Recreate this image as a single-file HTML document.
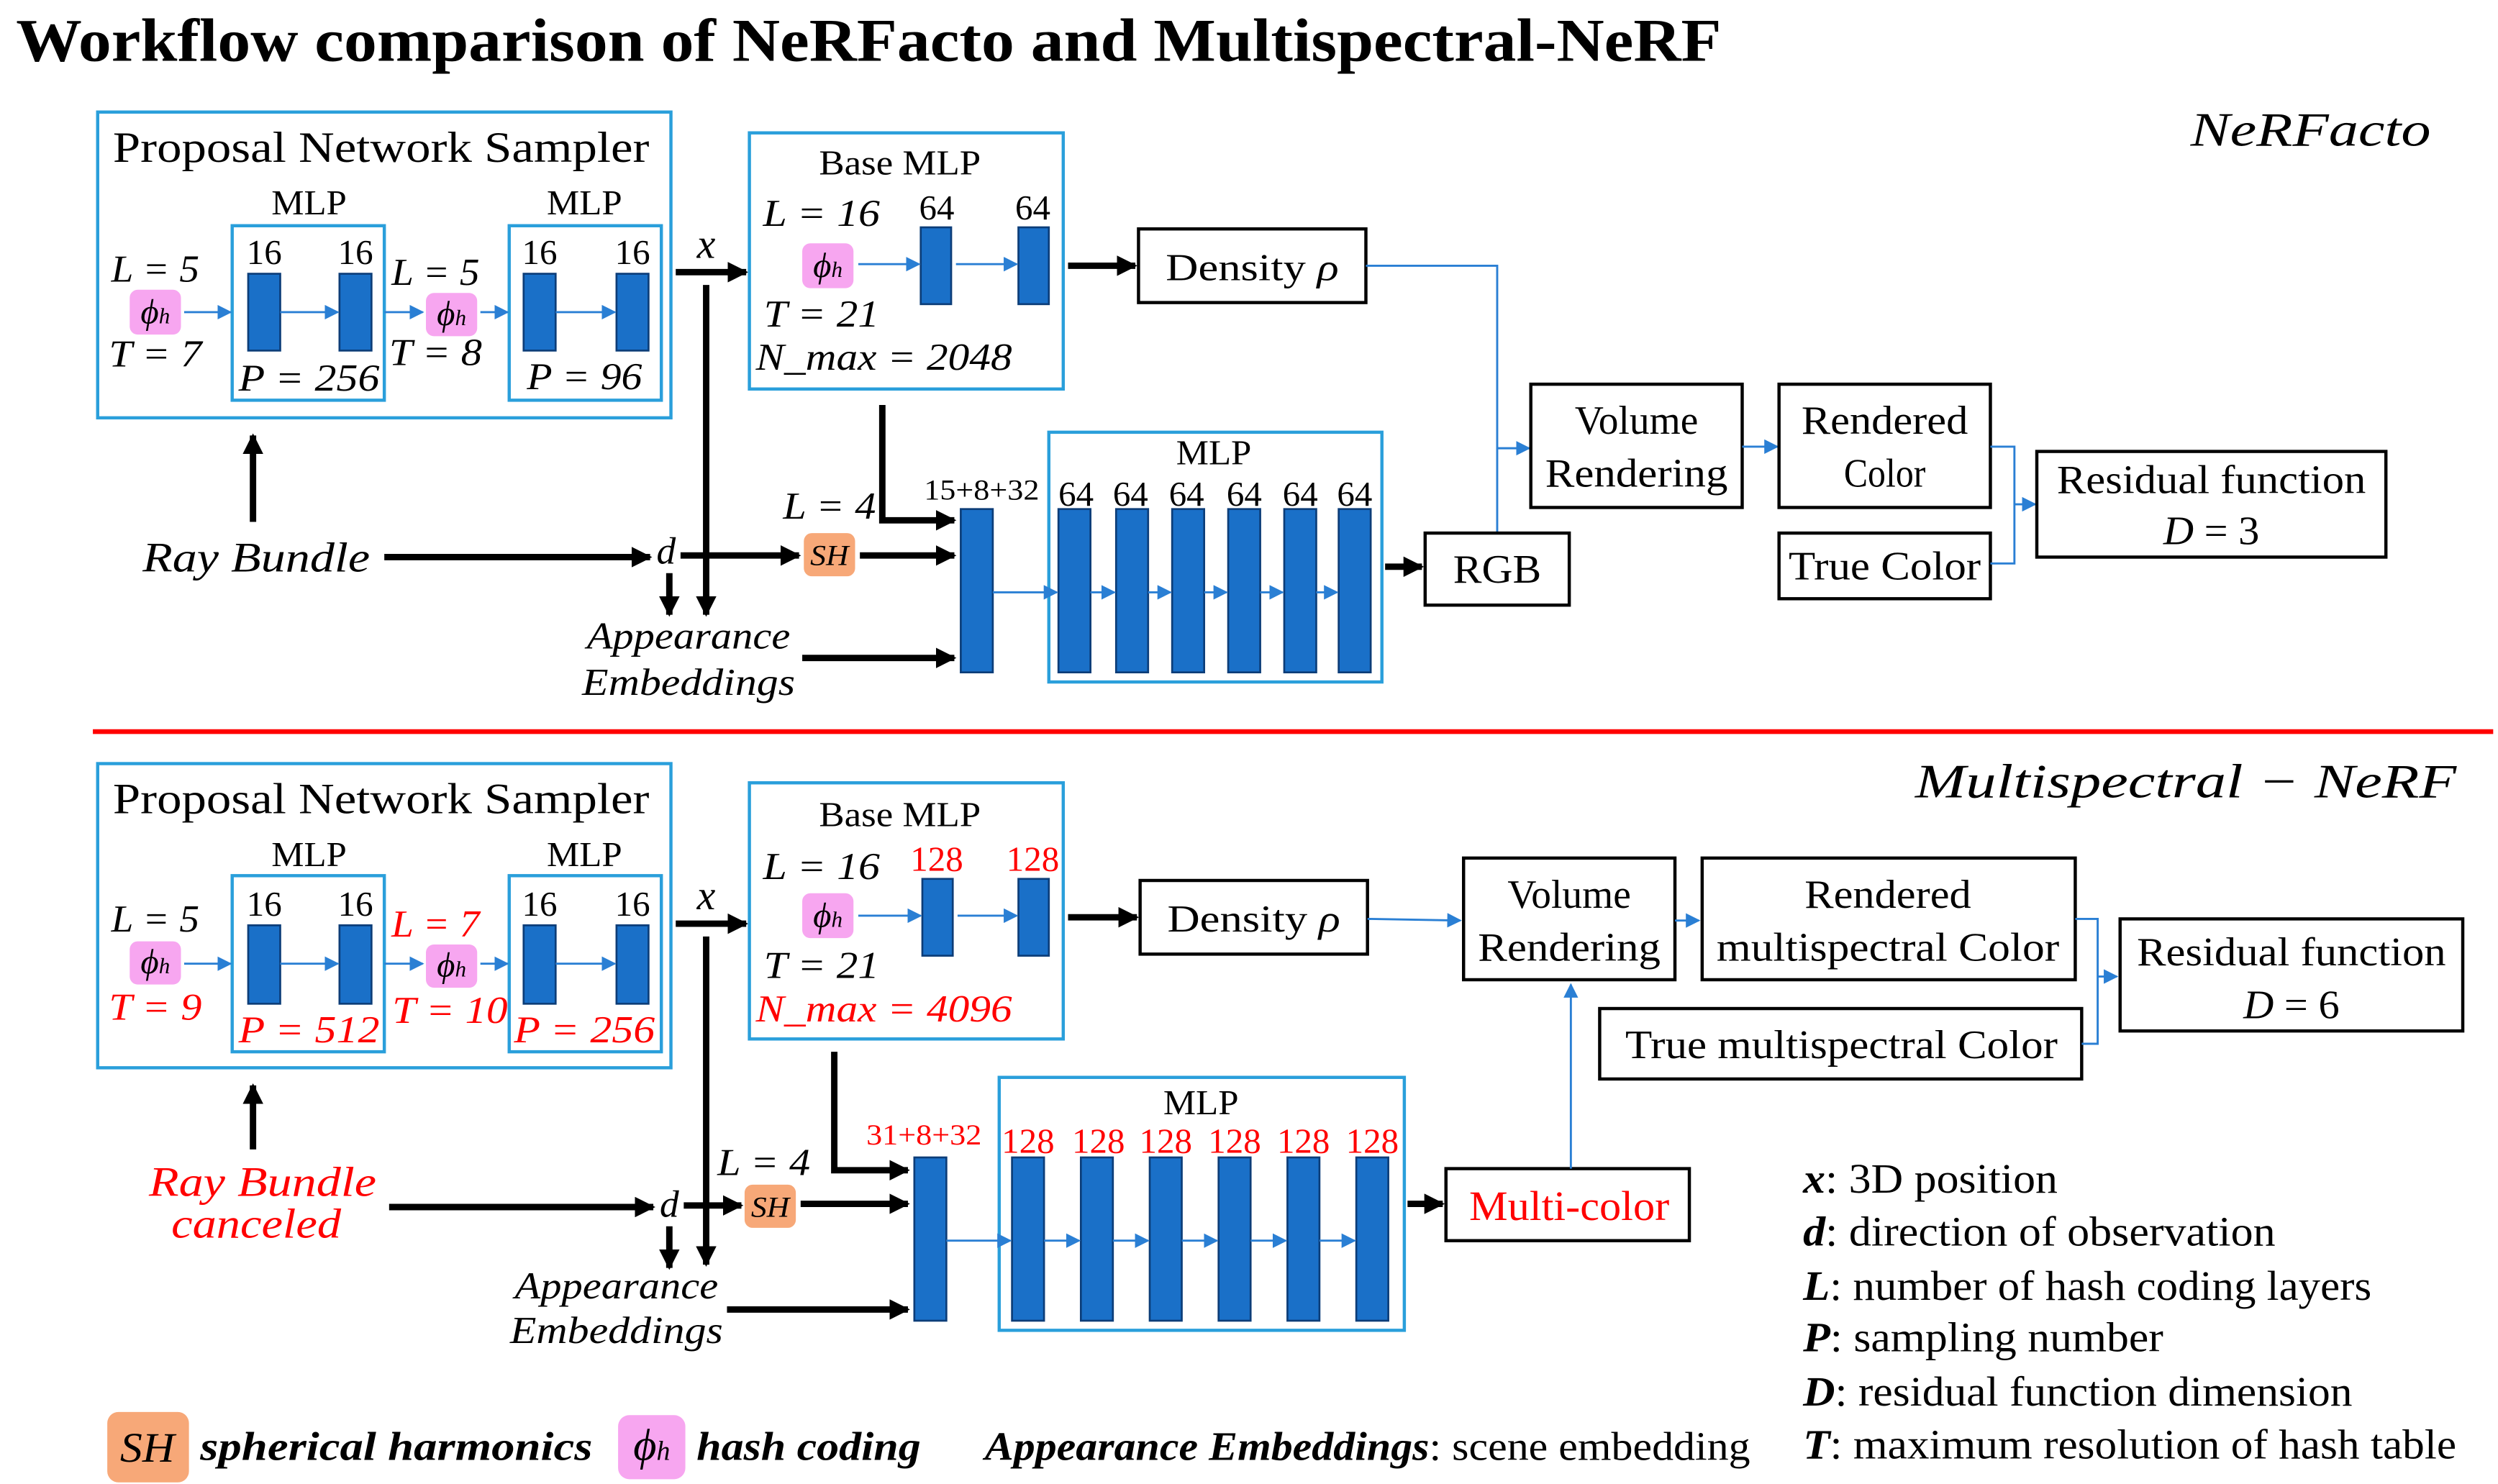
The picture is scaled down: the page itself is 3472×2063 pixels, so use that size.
<!DOCTYPE html>
<html><head><meta charset="utf-8"><style>
html,body{margin:0;padding:0;background:#fff}
svg{display:block}
text{font-family:"Liberation Serif","Times New Roman",serif;fill:#000}
.i{font-style:italic}
.b{font-weight:bold}
.r{fill:#f00}
.m{text-anchor:middle}
.bb{fill:none;stroke:#2a9fdb;stroke-width:2}
.kb{fill:#fff;stroke:#000;stroke-width:2}
.bar{fill:#1a70c8;stroke:#0c3d78;stroke-width:1.2}
.ph{fill:#f7a6f0}
.sh{fill:#f7a878}
.tk{stroke:#000;stroke-width:4;fill:none}
.bl{stroke:#2a7fd4;stroke-width:1.3;fill:none}
</style></head><body>
<svg width="3472" height="2063" viewBox="0 0 1560 927" preserveAspectRatio="none" xmlns="http://www.w3.org/2000/svg">
<defs>
<marker id="ka" viewBox="0 0 10 10" refX="9" refY="5" markerWidth="3.2" markerHeight="3.2" orient="auto" markerUnits="strokeWidth"><path d="M0,0L10,5L0,10z" fill="#000"/></marker>
<marker id="ba" viewBox="0 0 10 10" refX="9" refY="5" markerWidth="7" markerHeight="7" orient="auto" markerUnits="strokeWidth"><path d="M0,0L10,5L0,10z" fill="#2a7fd4"/></marker>
</defs>

<text x="10" y="38" class="b" font-size="38" textLength="1065" lengthAdjust="spacingAndGlyphs">Workflow comparison of NeRFacto and Multispectral-NeRF</text>

<!-- ============ TOP ============ -->
<text x="1443" y="91" class="i m" font-size="30" textLength="150" lengthAdjust="spacingAndGlyphs">NeRFacto</text>

<rect x="61" y="70" width="358" height="191" class="bb"/>
<text x="238" y="101" class="m" font-size="27" textLength="335" lengthAdjust="spacingAndGlyphs">Proposal Network Sampler</text>
<text x="193" y="134" class="m" font-size="22" textLength="47" lengthAdjust="spacingAndGlyphs">MLP</text>
<text x="365" y="134" class="m" font-size="22" textLength="47" lengthAdjust="spacingAndGlyphs">MLP</text>
<rect x="145" y="141" width="95" height="109" class="bb"/>
<rect x="318" y="141" width="95" height="109" class="bb"/>
<text x="165" y="165" class="m" font-size="22">16</text><text x="222" y="165" class="m" font-size="22">16</text>
<text x="337" y="165" class="m" font-size="22">16</text><text x="395" y="165" class="m" font-size="22">16</text>
<rect x="155" y="171" width="20" height="48" class="bar"/><rect x="212" y="171" width="20" height="48" class="bar"/>
<rect x="327" y="171" width="20" height="48" class="bar"/><rect x="385" y="171" width="20" height="48" class="bar"/>
<text x="193" y="244" class="m i" font-size="24" textLength="88" lengthAdjust="spacingAndGlyphs">P = 256</text>
<text x="365" y="243" class="m i" font-size="24" textLength="72" lengthAdjust="spacingAndGlyphs">P = 96</text>
<text x="97" y="176" class="m i" font-size="24" textLength="55" lengthAdjust="spacingAndGlyphs">L = 5</text>
<rect x="81" y="181" width="32" height="28" rx="5" class="ph"/><text x="97" y="202" class="m i" font-size="22">ϕ<tspan font-size="14">h</tspan></text>
<text x="97" y="229" class="m i" font-size="24" textLength="58" lengthAdjust="spacingAndGlyphs">T = 7</text>
<text x="272" y="178" class="m i" font-size="24" textLength="55" lengthAdjust="spacingAndGlyphs">L = 5</text>
<rect x="266" y="183" width="32" height="27" rx="5" class="ph"/><text x="282" y="203" class="m i" font-size="22">ϕ<tspan font-size="14">h</tspan></text>
<text x="272" y="228" class="m i" font-size="24" textLength="58" lengthAdjust="spacingAndGlyphs">T = 8</text>
<path d="M115,195H144" class="bl" marker-end="url(#ba)"/>
<path d="M175,195H211" class="bl" marker-end="url(#ba)"/>
<path d="M240,195H264" class="bl" marker-end="url(#ba)"/>
<path d="M300,195H317" class="bl" marker-end="url(#ba)"/>
<path d="M347,195H384" class="bl" marker-end="url(#ba)"/>

<text x="441" y="161" class="m i" font-size="26">x</text>
<path d="M422,170H466" class="tk" marker-end="url(#ka)"/>
<path d="M441,178V384" class="tk" stroke-width="3" marker-end="url(#ka)"/>

<rect x="468" y="83" width="196" height="160" class="bb"/>
<text x="562" y="109" class="m" font-size="22" textLength="101" lengthAdjust="spacingAndGlyphs">Base MLP</text>
<text x="513" y="141" class="m i" font-size="24" textLength="73" lengthAdjust="spacingAndGlyphs">L = 16</text>
<text x="585" y="137" class="m" font-size="22">64</text><text x="645" y="137" class="m" font-size="22">64</text>
<rect x="501" y="152" width="32" height="28" rx="5" class="ph"/><text x="517" y="173" class="m i" font-size="22">ϕ<tspan font-size="14">h</tspan></text>
<rect x="575" y="142" width="19" height="48" class="bar"/><rect x="636" y="142" width="19" height="48" class="bar"/>
<path d="M536,165H574" class="bl" marker-end="url(#ba)"/><path d="M597,165H635" class="bl" marker-end="url(#ba)"/>
<text x="513" y="204" class="m i" font-size="24" textLength="72" lengthAdjust="spacingAndGlyphs">T = 21</text>
<text x="552" y="231" class="m i" font-size="24" textLength="160" lengthAdjust="spacingAndGlyphs">N_max = 2048</text>
<path d="M667,166H709" class="tk" marker-end="url(#ka)"/>
<rect x="711" y="143" width="142" height="46" class="kb"/>
<text x="782" y="175" class="m" font-size="24" textLength="108" lengthAdjust="spacingAndGlyphs">Density <tspan class="i">ρ</tspan></text>
<path d="M853,166H935V280H955" class="bl" marker-end="url(#ba)"/>
<path d="M935,333V280" class="bl"/>

<rect x="956" y="240" width="132" height="77" class="kb"/>
<text x="1022" y="271" class="m" font-size="25" textLength="77" lengthAdjust="spacingAndGlyphs">Volume</text><text x="1022" y="304" class="m" font-size="25" textLength="114" lengthAdjust="spacingAndGlyphs">Rendering</text>
<path d="M1088,279H1110" class="bl" marker-end="url(#ba)"/>
<rect x="1111" y="240" width="132" height="77" class="kb"/>
<text x="1177" y="271" class="m" font-size="25" textLength="104" lengthAdjust="spacingAndGlyphs">Rendered</text><text x="1177" y="304" class="m" font-size="25" textLength="51" lengthAdjust="spacingAndGlyphs">Color</text>
<rect x="1111" y="333" width="132" height="41" class="kb"/>
<text x="1177" y="362" class="m" font-size="25" textLength="120" lengthAdjust="spacingAndGlyphs">True Color</text>
<path d="M1243,279H1258V352H1243" class="bl"/>
<path d="M1258,315H1271" class="bl" marker-end="url(#ba)"/>
<rect x="1272" y="282" width="218" height="66" class="kb"/>
<text x="1381" y="308" class="m" font-size="25" textLength="193" lengthAdjust="spacingAndGlyphs">Residual function</text>
<text x="1381" y="340" class="m" font-size="25" textLength="60" lengthAdjust="spacingAndGlyphs"><tspan class="i">D</tspan> = 3</text>

<path d="M551,253V325H596" class="tk" marker-end="url(#ka)"/>
<text x="518" y="324" class="m i" font-size="24" textLength="58" lengthAdjust="spacingAndGlyphs">L = 4</text>
<rect x="502" y="333" width="32" height="27" rx="5" class="sh"/><text x="518" y="353" class="m i" font-size="18" textLength="24" lengthAdjust="spacingAndGlyphs">SH</text>
<path d="M537,347H596" class="tk" marker-end="url(#ka)"/>
<text x="416" y="352" class="m i" font-size="24">d</text>
<text x="160" y="357" class="m i" font-size="26" textLength="142" lengthAdjust="spacingAndGlyphs">Ray Bundle</text>
<path d="M240,348H406" class="tk" marker-end="url(#ka)"/>
<path d="M425,347H499" class="tk" marker-end="url(#ka)"/>
<path d="M158,326V272" class="tk" stroke-width="3" marker-end="url(#ka)"/>
<path d="M418,358V384" class="tk" stroke-width="3" marker-end="url(#ka)"/>
<text x="430" y="405" class="m i" font-size="24" textLength="127" lengthAdjust="spacingAndGlyphs">Appearance</text>
<text x="430" y="434" class="m i" font-size="24" textLength="133" lengthAdjust="spacingAndGlyphs">Embeddings</text>
<path d="M501,411H596" class="tk" marker-end="url(#ka)"/>
<text x="613" y="312" class="m" font-size="18" textLength="72" lengthAdjust="spacingAndGlyphs">15+8+32</text>
<rect x="600" y="318" width="20" height="102" class="bar"/>
<rect x="655" y="270" width="208" height="156" class="bb"/>
<text x="758" y="290" class="m" font-size="22" textLength="47" lengthAdjust="spacingAndGlyphs">MLP</text>
<g font-size="22">
<text x="672" y="316" class="m">64</text><text x="706" y="316" class="m">64</text><text x="741" y="316" class="m">64</text><text x="777" y="316" class="m">64</text><text x="812" y="316" class="m">64</text><text x="846" y="316" class="m">64</text>
</g>
<rect x="661" y="318" width="20" height="102" class="bar"/><rect x="697" y="318" width="20" height="102" class="bar"/><rect x="732" y="318" width="20" height="102" class="bar"/><rect x="767" y="318" width="20" height="102" class="bar"/><rect x="802" y="318" width="20" height="102" class="bar"/><rect x="836" y="318" width="20" height="102" class="bar"/>
<path d="M620,370H660" class="bl" marker-end="url(#ba)"/><path d="M681,370H696" class="bl" marker-end="url(#ba)"/><path d="M717,370H731" class="bl" marker-end="url(#ba)"/><path d="M752,370H766" class="bl" marker-end="url(#ba)"/><path d="M787,370H801" class="bl" marker-end="url(#ba)"/><path d="M822,370H835" class="bl" marker-end="url(#ba)"/>
<path d="M865,354H888" class="tk" marker-end="url(#ka)"/>
<rect x="890" y="333" width="90" height="45" class="kb"/>
<text x="935" y="364" class="m" font-size="25" textLength="55" lengthAdjust="spacingAndGlyphs">RGB</text>

<line x1="58" y1="457" x2="1557" y2="457" stroke="#f00" stroke-width="3"/>

<!-- ============ BOTTOM ============ -->
<text x="1365" y="498" class="i m" font-size="30" textLength="338" lengthAdjust="spacingAndGlyphs">Multispectral − NeRF</text>

<rect x="61" y="477" width="358" height="190" class="bb"/>
<text x="238" y="508" class="m" font-size="27" textLength="335" lengthAdjust="spacingAndGlyphs">Proposal Network Sampler</text>
<text x="193" y="541" class="m" font-size="22" textLength="47" lengthAdjust="spacingAndGlyphs">MLP</text>
<text x="365" y="541" class="m" font-size="22" textLength="47" lengthAdjust="spacingAndGlyphs">MLP</text>
<rect x="145" y="547" width="95" height="110" class="bb"/>
<rect x="318" y="547" width="95" height="110" class="bb"/>
<text x="165" y="572" class="m" font-size="22">16</text><text x="222" y="572" class="m" font-size="22">16</text>
<text x="337" y="572" class="m" font-size="22">16</text><text x="395" y="572" class="m" font-size="22">16</text>
<rect x="155" y="578" width="20" height="49" class="bar"/><rect x="212" y="578" width="20" height="49" class="bar"/>
<rect x="327" y="578" width="20" height="49" class="bar"/><rect x="385" y="578" width="20" height="49" class="bar"/>
<text x="193" y="651" class="m i r" font-size="24" textLength="88" lengthAdjust="spacingAndGlyphs">P = 512</text>
<text x="365" y="651" class="m i r" font-size="24" textLength="88" lengthAdjust="spacingAndGlyphs">P = 256</text>
<text x="97" y="582" class="m i" font-size="24" textLength="55" lengthAdjust="spacingAndGlyphs">L = 5</text>
<rect x="81" y="588" width="32" height="27" rx="5" class="ph"/><text x="97" y="608" class="m i" font-size="22">ϕ<tspan font-size="14">h</tspan></text>
<text x="97" y="637" class="m i r" font-size="24" textLength="58" lengthAdjust="spacingAndGlyphs">T = 9</text>
<text x="272" y="585" class="m i r" font-size="24" textLength="55" lengthAdjust="spacingAndGlyphs">L = 7</text>
<rect x="266" y="590" width="32" height="27" rx="5" class="ph"/><text x="282" y="610" class="m i" font-size="22">ϕ<tspan font-size="14">h</tspan></text>
<text x="281" y="639" class="m i r" font-size="24" textLength="72" lengthAdjust="spacingAndGlyphs">T = 10</text>
<path d="M115,602H144" class="bl" marker-end="url(#ba)"/>
<path d="M175,602H211" class="bl" marker-end="url(#ba)"/>
<path d="M240,602H264" class="bl" marker-end="url(#ba)"/>
<path d="M300,602H317" class="bl" marker-end="url(#ba)"/>
<path d="M347,602H384" class="bl" marker-end="url(#ba)"/>

<text x="441" y="568" class="m i" font-size="26">x</text>
<path d="M422,577H466" class="tk" marker-end="url(#ka)"/>
<path d="M441,585V790" class="tk" stroke-width="3" marker-end="url(#ka)"/>

<rect x="468" y="489" width="196" height="160" class="bb"/>
<text x="562" y="516" class="m" font-size="22" textLength="101" lengthAdjust="spacingAndGlyphs">Base MLP</text>
<text x="513" y="549" class="m i" font-size="24" textLength="73" lengthAdjust="spacingAndGlyphs">L = 16</text>
<text x="585" y="544" class="m r" font-size="22">128</text><text x="645" y="544" class="m r" font-size="22">128</text>
<rect x="501" y="558" width="32" height="28" rx="5" class="ph"/><text x="517" y="579" class="m i" font-size="22">ϕ<tspan font-size="14">h</tspan></text>
<rect x="576" y="549" width="19" height="48" class="bar"/><rect x="636" y="549" width="19" height="48" class="bar"/>
<path d="M536,572H575" class="bl" marker-end="url(#ba)"/><path d="M598,572H635" class="bl" marker-end="url(#ba)"/>
<text x="513" y="611" class="m i" font-size="24" textLength="72" lengthAdjust="spacingAndGlyphs">T = 21</text>
<text x="552" y="638" class="m i r" font-size="24" textLength="160" lengthAdjust="spacingAndGlyphs">N_max = 4096</text>
<path d="M667,573H710" class="tk" marker-end="url(#ka)"/>
<rect x="712" y="550" width="142" height="46" class="kb"/>
<text x="783" y="582" class="m" font-size="24" textLength="108" lengthAdjust="spacingAndGlyphs">Density <tspan class="i">ρ</tspan></text>
<path d="M854,574L912,575" class="bl" marker-end="url(#ba)"/>

<rect x="914" y="536" width="132" height="76" class="kb"/>
<text x="980" y="567" class="m" font-size="25" textLength="77" lengthAdjust="spacingAndGlyphs">Volume</text><text x="980" y="600" class="m" font-size="25" textLength="114" lengthAdjust="spacingAndGlyphs">Rendering</text>
<path d="M1046,575H1061" class="bl" marker-end="url(#ba)"/>
<rect x="1063" y="536" width="233" height="76" class="kb"/>
<text x="1179" y="567" class="m" font-size="25" textLength="104" lengthAdjust="spacingAndGlyphs">Rendered</text><text x="1179" y="600" class="m" font-size="25" textLength="214" lengthAdjust="spacingAndGlyphs">multispectral Color</text>
<rect x="999" y="630" width="301" height="44" class="kb"/>
<text x="1150" y="661" class="m" font-size="25" textLength="270" lengthAdjust="spacingAndGlyphs">True multispectral Color</text>
<path d="M1296,574H1310V652H1300" class="bl"/>
<path d="M1310,610H1322" class="bl" marker-end="url(#ba)"/>
<rect x="1324" y="574" width="214" height="70" class="kb"/>
<text x="1431" y="603" class="m" font-size="25" textLength="193" lengthAdjust="spacingAndGlyphs">Residual function</text>
<text x="1431" y="636" class="m" font-size="25" textLength="60" lengthAdjust="spacingAndGlyphs"><tspan class="i">D</tspan> = 6</text>

<path d="M521,657V731H567" class="tk" marker-end="url(#ka)"/>
<text x="477" y="734" class="m i" font-size="24" textLength="58" lengthAdjust="spacingAndGlyphs">L = 4</text>
<rect x="465" y="740" width="32" height="27" rx="5" class="sh"/><text x="481" y="760" class="m i" font-size="18" textLength="24" lengthAdjust="spacingAndGlyphs">SH</text>
<path d="M500,752H567" class="tk" marker-end="url(#ka)"/>
<text x="418" y="760" class="m i" font-size="24">d</text>
<text x="164" y="747" class="m i r" font-size="26" textLength="142" lengthAdjust="spacingAndGlyphs">Ray Bundle</text>
<text x="160" y="773" class="m i r" font-size="26" textLength="106" lengthAdjust="spacingAndGlyphs">canceled</text>
<path d="M243,754H408" class="tk" marker-end="url(#ka)"/>
<path d="M427,753H463" class="tk" marker-end="url(#ka)"/>
<path d="M158,718V678" class="tk" stroke-width="3" marker-end="url(#ka)"/>
<path d="M418,766V792" class="tk" stroke-width="3" marker-end="url(#ka)"/>
<text x="385" y="811" class="m i" font-size="24" textLength="127" lengthAdjust="spacingAndGlyphs">Appearance</text>
<text x="385" y="839" class="m i" font-size="24" textLength="133" lengthAdjust="spacingAndGlyphs">Embeddings</text>
<path d="M454,818H567" class="tk" marker-end="url(#ka)"/>
<text x="577" y="715" class="m r" font-size="18" textLength="72" lengthAdjust="spacingAndGlyphs">31+8+32</text>
<rect x="571" y="723" width="20" height="102" class="bar"/>
<rect x="624" y="673" width="253" height="158" class="bb"/>
<text x="750" y="696" class="m" font-size="22" textLength="47" lengthAdjust="spacingAndGlyphs">MLP</text>
<g font-size="22">
<text x="642" y="720" class="m r">128</text><text x="686" y="720" class="m r">128</text><text x="728" y="720" class="m r">128</text><text x="771" y="720" class="m r">128</text><text x="814" y="720" class="m r">128</text><text x="857" y="720" class="m r">128</text>
</g>
<rect x="632" y="723" width="20" height="102" class="bar"/><rect x="675" y="723" width="20" height="102" class="bar"/><rect x="718" y="723" width="20" height="102" class="bar"/><rect x="761" y="723" width="20" height="102" class="bar"/><rect x="804" y="723" width="20" height="102" class="bar"/><rect x="847" y="723" width="20" height="102" class="bar"/>
<path d="M591,775H631" class="bl" marker-end="url(#ba)"/><path d="M652,775H674" class="bl" marker-end="url(#ba)"/><path d="M695,775H717" class="bl" marker-end="url(#ba)"/><path d="M738,775H760" class="bl" marker-end="url(#ba)"/><path d="M781,775H803" class="bl" marker-end="url(#ba)"/><path d="M824,775H846" class="bl" marker-end="url(#ba)"/>
<path d="M879,752H901" class="tk" marker-end="url(#ka)"/>
<rect x="903" y="730" width="152" height="45" class="kb"/>
<text x="980" y="762" class="m r" font-size="26" textLength="125" lengthAdjust="spacingAndGlyphs">Multi-color</text>
<path d="M981,730V615" class="bl" marker-end="url(#ba)"/>

<!-- legend right -->
<g font-size="26">
<text x="1126" y="745" textLength="159" lengthAdjust="spacingAndGlyphs"><tspan class="b i">x</tspan>: 3D position</text>
<text x="1126" y="778" textLength="295" lengthAdjust="spacingAndGlyphs"><tspan class="b i">d</tspan>: direction of observation</text>
<text x="1126" y="812" textLength="355" lengthAdjust="spacingAndGlyphs"><tspan class="b i">L</tspan>: number of hash coding layers</text>
<text x="1126" y="844" textLength="225" lengthAdjust="spacingAndGlyphs"><tspan class="b i">P</tspan>: sampling number</text>
<text x="1126" y="878" textLength="343" lengthAdjust="spacingAndGlyphs"><tspan class="b i">D</tspan>: residual function dimension</text>
<text x="1126" y="911" textLength="408" lengthAdjust="spacingAndGlyphs"><tspan class="b i">T</tspan>: maximum resolution of hash table</text>
</g>
<!-- legend bottom -->
<rect x="67" y="882" width="51" height="44" rx="7" class="sh"/>
<text x="92" y="913" class="m i" font-size="26" textLength="34" lengthAdjust="spacingAndGlyphs">SH</text>
<text x="125" y="912" class="b i" font-size="25" textLength="245" lengthAdjust="spacingAndGlyphs">spherical harmonics</text>
<rect x="386" y="884" width="42" height="40" rx="7" class="ph"/>
<text x="407" y="912" class="m i" font-size="28">ϕ<tspan font-size="17">h</tspan></text>
<text x="435" y="912" class="b i" font-size="25" textLength="140" lengthAdjust="spacingAndGlyphs">hash coding</text>
<text x="615" y="912" font-size="25" textLength="478" lengthAdjust="spacingAndGlyphs"><tspan class="b i">Appearance Embeddings</tspan>: scene embedding</text>
</svg>
</body></html>
